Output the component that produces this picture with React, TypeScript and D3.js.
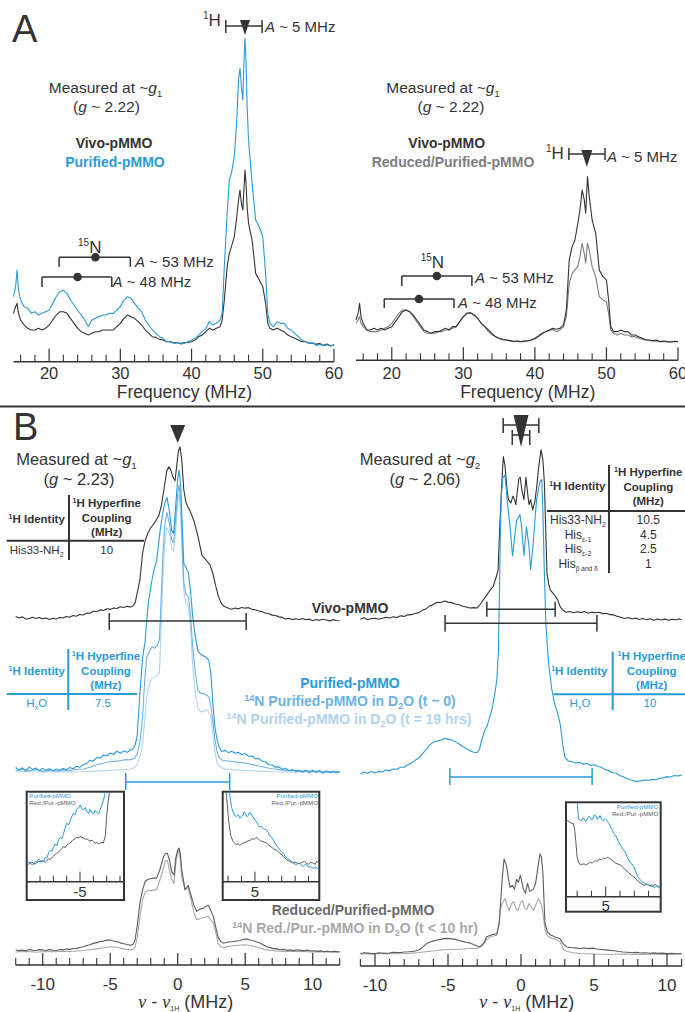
import React from "react";
import * as d3 from "d3";

type Pt = [number, number];
type Scale = d3.ScaleLinear<number, number>;

// colours
const INK = "#333333";
const BLUE = "#2a9bd7";
const BLUE_MID = "#6db3e2";
const BLUE_LIGHT = "#b1d3ee";
const GRAY = "#5c5c5c";
const GRAY_LIGHT = "#a8a8a8";
const GRAY_A = "#7d7d7d";
const FONT = "'Liberation Sans', Arial, Helvetica, sans-serif";
const SERIF = "'Liberation Serif', 'DejaVu Serif', serif";

// ---------- panel A : ENDOR vs frequency (MHz) ----------
const aMajor = [20, 30, 40, 50, 60];
const aMinor = [16, 18, 22, 24, 26, 28, 32, 34, 36, 38, 42, 44, 46, 48, 52, 54, 56, 58];

const aLeftPurified: Pt[] = [[15,15],[15.3,18],[15.5,23],[15.7,17],[16,14],[16.5,12],[17,11.5],[17.5,10],[18,10.5],[18.5,9.5],[19,10],[19.5,10.5],[20,11],[20.5,13],[21,15],[21.5,16.5],[22,17],[22.5,16],[23,14],[23.5,12.5],[24,11],[24.5,9.5],[25,8],[25.5,6],[26,8],[26.5,8.5],[27,9],[27.5,9.5],[28,9.5],[28.5,10],[29,10],[29.5,11],[30,12],[30.5,14],[31,15],[31.5,14.5],[32,13],[32.5,11.5],[33,10.5],[33.5,8],[34,6.5],[34.5,5],[35,4],[35.5,3],[36,2.5],[36.5,1.5],[37,1.5],[37.5,1],[38,1.2],[38.5,0.8],[39,1],[39.5,1.5],[40,2],[40.5,2.5],[41,3.5],[41.5,4.5],[42,5.5],[42.5,7.5],[43,6.5],[43.5,7],[44,8],[44.3,10],[44.6,24],[45,40],[45.3,50],[45.6,52],[46,57],[46.3,66],[46.6,80],[46.8,83.5],[47.0,78],[47.2,74],[47.35,85],[47.5,92.5],[47.65,86],[47.8,72],[48,62],[48.5,49],[49,38],[49.5,36],[50,33],[50.4,22],[50.7,10],[51,7],[51.5,6],[52,7.5],[52.5,7],[53,7],[53.5,5.5],[54,5],[54.5,4],[55,3],[55.5,2],[56,1.5],[56.5,1],[57,1.2],[57.5,0.4],[58,0.7],[58.5,0.3],[59,0.6],[59.5,0.2],[60,0.4]];
const aLeftVivo: Pt[] = [[15,10],[15.3,12],[15.5,13],[15.7,10],[16,8],[16.5,6.5],[17,5.5],[17.5,5],[18,5],[18.5,5.5],[19,5],[19.5,5.5],[20,6.5],[20.5,8],[21,9.5],[21.5,10.5],[22,10.5],[22.5,10],[23,8.5],[23.5,7],[24,5.5],[24.5,4.5],[25,4],[25.5,3.5],[26,4],[26.5,4.5],[27,4.5],[27.5,5],[28,5],[28.5,5],[29,5],[29.5,6],[30,7],[30.5,8.5],[31,9.5],[31.5,9],[32,8.5],[32.5,7.5],[33,6.5],[33.5,5],[34,4],[34.5,3],[35,2.8],[35.5,2.2],[36,2],[36.5,1.5],[37,1.5],[37.5,1.2],[38,1.2],[38.5,1],[39,1.2],[39.5,1.3],[40,1.5],[40.5,2],[41,3],[41.5,3.5],[42,4.5],[42.5,5.5],[43,5],[43.5,5.5],[44,6],[44.3,8],[44.6,14],[45,24],[45.3,28],[45.6,30],[46,33],[46.3,38],[46.6,44],[46.8,47],[47.0,43],[47.2,41],[47.35,47],[47.5,53],[47.65,49],[47.8,42],[48,37],[48.5,32],[49,22],[49.5,20],[50,18],[50.4,13],[50.7,7],[51,5.5],[51.5,5],[52,5.5],[52.5,5],[53,4.5],[53.5,3.5],[54,3],[54.5,2.5],[55,2],[55.5,1.5],[56,1.5],[56.5,1],[57,1.1],[57.5,0.7],[58,1],[58.5,0.4],[59,0.8],[59.5,0.3],[60,0.6]];
const aRightVivo: Pt[] = [[15,7],[15.3,9],[15.5,12],[15.7,8],[16,6],[16.5,4],[17,4],[17.5,4.5],[18,4],[18.5,4.5],[19,4],[19.5,4.5],[20,5],[20.5,6.5],[21,8],[21.5,9.5],[22,10],[22.5,9.5],[23,8.5],[23.5,7],[24,5.5],[24.5,4],[25,3.5],[25.5,3],[26,3.5],[26.5,3.5],[27,4],[27.5,4.5],[28,4],[28.5,5],[29,5],[29.5,6.5],[30,8],[30.5,9],[31,9.2],[31.5,8.5],[32,7.5],[32.5,6],[33,5],[33.5,4],[34,3],[34.5,2],[35,1.5],[35.5,1.2],[36,1],[36.5,0.8],[37,0.6],[37.5,0.7],[38,0.5],[38.5,0.7],[39,0.8],[39.5,1],[40,1.5],[40.5,2.2],[41,3],[41.5,3.5],[42,4],[42.5,4.5],[43,4.2],[43.5,4.5],[44,5.5],[44.4,10],[44.8,25],[45.2,29],[45.6,31],[46,36],[46.3,40],[46.6,46],[46.9,43],[47.1,39],[47.35,50],[47.6,44],[48,37],[48.5,33],[49,22],[49.5,20],[50,19],[50.3,13],[50.6,5],[51,3.5],[51.5,3.5],[52,4],[52.5,3.5],[53,3.5],[53.5,2.5],[54,2.5],[54.5,2],[55,1.5],[55.5,1],[56,1],[56.5,0.8],[57,1],[57.5,0.5],[58,0.7],[58.5,0.5],[59,0.4],[59.5,0.6],[60,0.5]];
const aRightReduced: Pt[] = [[15,6],[15.3,7],[15.5,8],[15.7,6],[16,5],[16.5,4],[17,3.5],[17.5,3.5],[18,3.5],[18.5,4],[19,4.5],[19.5,5],[20,6],[20.5,7.5],[21,9],[21.5,10],[22,10],[22.5,9.5],[23,8],[23.5,6.5],[24,5],[24.5,3.5],[25,3],[25.5,3],[26,3],[26.5,3.5],[27,3.5],[27.5,4],[28,4],[28.5,4.5],[29,5],[29.5,6.5],[30,8],[30.5,9],[31,9],[31.5,8.5],[32,7.5],[32.5,6],[33,5],[33.5,3.5],[34,2.5],[34.5,2],[35,1.5],[35.5,1],[36,1],[36.5,0.8],[37,0.5],[37.5,0.6],[38,0.5],[38.5,0.5],[39,0.7],[39.5,1],[40,1.3],[40.5,2],[41,2.8],[41.5,3.5],[42,3.8],[42.5,4.2],[43,3.5],[43.5,4],[44,5],[44.4,8],[44.8,18],[45.2,21],[45.6,22],[46,23],[46.3,26],[46.6,30],[46.9,27],[47.1,24],[47.35,30],[47.6,28],[48,23],[48.5,20],[49,14],[49.5,13],[50,12.5],[50.3,9],[50.6,4],[51,3],[51.5,2.5],[52,3],[52.5,2.5],[53,2.5],[53.5,2],[54,2],[54.5,1.5],[55,1.2],[55.5,1],[56,0.8],[56.5,0.7],[57,0.6],[57.5,0.5],[58,0.5],[58.5,0.5],[59,0.4],[59.5,0.5],[60,0.5]];

// hyperfine brackets, MHz: [low, high, marker]
const aLeftN15: [number, number, number][] = [[21.4, 31.4, 26.5], [19.0, 28.8, 24.0]];
const aLeftH1: [number, number, number] = [44.8, 49.9, 47.5];
const aRightN15: [number, number, number][] = [[21.4, 31.2, 26.3], [18.95, 28.7, 23.8]];
const aRightH1: [number, number, number] = [44.75, 49.8, 47.26];

// ---------- panel B : ENDOR vs nu - nu_H (MHz) ----------
const bMajor = [-10, -5, 0, 5, 10];
const bLeftMinor = [-12, -11, -9, -8, -7, -6, -4, -3, -2, -1, 1, 2, 3, 4, 6, 7, 8, 9, 11, 12];
const bRightMinor = [-11, -9, -8, -7, -6, -4, -3, -2, -1, 1, 2, 3, 4, 6, 7, 8, 9, 11];

const bLeftVivo: Pt[] = [[-12,2],[-11.75,1.2],[-11.5,1.8],[-11.25,0.6],[-11,0.8],[-10.75,1.6],[-10.5,0.9],[-10.25,1.4],[-10,0.7],[-9.75,1.2],[-9.5,0.3],[-9.25,1],[-9,0.6],[-8.75,1.5],[-8.5,1.1],[-8.25,2],[-8,1.6],[-7.75,2.6],[-7.5,2.2],[-7.25,3.2],[-7,2.9],[-6.75,4],[-6.5,3.8],[-6.25,5],[-6,4.7],[-5.75,5.8],[-5.5,5.5],[-5.25,6.5],[-5,6.1],[-4.75,6.9],[-4.5,6.6],[-4.25,7.6],[-4,7.2],[-3.75,7.9],[-3.5,7.4],[-3.3,8.2],[-3.15,10],[-3.0,15.5],[-2.8,23],[-2.6,38.5],[-2.4,46],[-2.2,50],[-2.0,53],[-1.7,56],[-1.4,60],[-1.2,66],[-1.0,76],[-0.8,86],[-0.65,88],[-0.5,86],[-0.35,82],[-0.2,80],[-0.05,90],[0.05,97],[0.17,99.5],[0.3,92],[0.45,75],[0.6,68],[0.75,65],[0.9,63],[1.2,57],[1.5,48],[1.8,37],[2.1,34.5],[2.4,31.5],[2.6,27],[2.8,20],[3.0,14],[3.2,10],[3.4,8],[3.6,7.3],[3.8,6.6],[4.0,6.2],[4.25,6.9],[4.5,6.4],[4.75,7.2],[5,6.8],[5.25,7.1],[5.5,6.2],[5.75,5.9],[6,5.2],[6.25,4.8],[6.5,4],[6.75,3.6],[7,2.8],[7.25,2.6],[7.5,1.8],[7.75,1.5],[8,0.6],[8.25,1],[8.5,0.2],[8.75,0.7],[9,0.3],[9.25,0.9],[9.5,0.1],[9.75,0.5],[10,-0.4],[10.25,0.3],[10.5,-0.2],[10.75,0.4],[11,0],[11.25,-0.5],[11.5,0.2],[11.75,-0.3],[12,-0.4]];
const bLeftPurified: Pt[] = [[-12,1.5],[-11.75,0.6],[-11.5,1.4],[-11.25,0.3],[-11,1.6],[-10.75,0.8],[-10.5,1.3],[-10.25,0.4],[-10,1.2],[-9.75,0.5],[-9.5,1.1],[-9.25,0.4],[-9,1],[-8.75,0.5],[-8.5,1.2],[-8.25,0.7],[-8,1.5],[-7.75,1.1],[-7.5,1.9],[-7.25,1.6],[-7,2.4],[-6.75,2.8],[-6.5,3.9],[-6.25,3.6],[-6,4.8],[-5.75,4.6],[-5.5,5.7],[-5.25,5.3],[-5,6.3],[-4.75,5.8],[-4.5,6.9],[-4.25,6.2],[-4,7],[-3.75,6.5],[-3.5,7.3],[-3.3,7.8],[-3.15,9],[-3.0,12],[-2.8,26],[-2.6,38],[-2.42,43],[-2.3,50],[-2.17,56],[-1.93,63],[-1.75,67],[-1.56,70],[-1.3,80],[-1.1,86],[-0.95,89],[-0.8,91],[-0.6,86],[-0.45,80],[-0.3,79],[-0.15,88],[0,97],[0.1,100],[0.22,95],[0.35,80],[0.45,69],[0.6,68],[0.79,66],[0.95,60],[1.1,52],[1.3,45],[1.5,40],[1.7,39],[1.9,38.5],[2.1,38],[2.3,37],[2.45,33],[2.6,23],[2.75,15],[2.9,11],[3.05,8.5],[3.25,6.8],[3.5,7.2],[3.75,6.4],[4,6.9],[4.25,6.2],[4.5,6.5],[4.75,5.7],[5,6.1],[5.25,5.2],[5.5,5.3],[5.75,4.4],[6,4.5],[6.25,3.5],[6.5,3.4],[6.75,2.4],[7,2.3],[7.25,1.6],[7.5,1.7],[7.75,0.9],[8,1.2],[8.25,0.4],[8.5,0.8],[8.75,0.1],[9,0.6],[9.25,-0.1],[9.5,0.5],[9.75,-0.3],[10,0.6],[10.25,-0.2],[10.5,0.3],[10.75,-0.4],[11,0.4],[11.25,-0.2],[11.5,0.1],[11.75,-0.3],[12,0.2]];
const bLeftD2O0: Pt[] = [[-12,0.5],[-11.5,0.9],[-11,0.4],[-10.5,0.8],[-10,0.2],[-9.5,0.6],[-9,0.3],[-8.5,0.7],[-8,0.5],[-7.5,0.9],[-7,1],[-6.5,1.6],[-6,2.4],[-5.5,3],[-5,3.4],[-4.5,3.6],[-4,4],[-3.5,4.1],[-3.2,4.5],[-3.0,6],[-2.8,10],[-2.6,18],[-2.45,30],[-2.3,38],[-2.1,40],[-1.9,41.5],[-1.7,41],[-1.5,42],[-1.35,44],[-1.25,55],[-1.1,72],[-0.95,82],[-0.8,86],[-0.6,82],[-0.45,77],[-0.3,76],[-0.15,84],[0,92],[0.1,95],[0.22,90],[0.35,74],[0.45,63],[0.6,59],[0.79,58],[0.95,52],[1.1,42],[1.3,33],[1.5,27],[1.7,26],[1.9,26],[2.1,25.5],[2.3,25],[2.45,22],[2.6,17],[2.75,11],[2.9,7],[3.05,5],[3.25,4],[3.5,3.8],[4,3.5],[4.5,3.2],[5,3],[5.5,2.5],[6,2],[6.5,1.5],[7,1.1],[7.5,0.8],[8,0.5],[8.5,0.6],[9,0.3],[9.5,0.5],[10,0.2],[10.5,0.4],[11,0],[11.5,0.3],[12,0.1]];
const bLeftD2O19: Pt[] = [[-12,0.3],[-11,0.1],[-10,0],[-9,0.1],[-8,0],[-7,0.1],[-6,0.3],[-5,0.5],[-4,0.8],[-3.5,1],[-3.2,1.5],[-3.0,2.5],[-2.8,5],[-2.6,9],[-2.45,17],[-2.3,25],[-2.1,29],[-1.9,31],[-1.7,31.5],[-1.5,32],[-1.35,33],[-1.25,45],[-1.1,64],[-0.95,76],[-0.8,81],[-0.6,79],[-0.45,74],[-0.3,73],[-0.15,80],[0,89],[0.1,92],[0.22,87],[0.35,70],[0.45,60],[0.6,56],[0.79,55],[0.95,48],[1.1,36],[1.3,26],[1.5,21],[1.7,20],[1.9,20],[2.1,20.5],[2.3,20],[2.45,18],[2.6,13],[2.75,7],[2.9,3.5],[3.05,2],[3.25,1.5],[3.5,1],[4,0.8],[5,0.5],[6,0.3],[7,0.1],[8,0],[9,0],[10,0],[11,0],[12,0]];
const bLeftReduced: Pt[] = [[-12,2],[-11.75,1.3],[-11.5,1.9],[-11.25,1.1],[-11,2.5],[-10.75,1.6],[-10.5,1.5],[-10.25,2.3],[-10,2],[-9.75,1.4],[-9.5,2.5],[-9.25,1.7],[-9,1.5],[-8.75,2.4],[-8.5,2],[-8.25,2.8],[-8,2.5],[-7.75,3.3],[-7.5,3.5],[-7.25,4.4],[-7,5],[-6.75,6.2],[-6.5,7],[-6.25,8.3],[-6,9],[-5.75,10.2],[-5.5,10.5],[-5.25,11.4],[-5,11.5],[-4.75,10.6],[-4.5,10],[-4.25,8.8],[-4,8],[-3.75,7.2],[-3.5,6.5],[-3.3,7.5],[-3.15,12],[-3.0,25],[-2.8,47],[-2.6,60],[-2.4,68],[-2.2,70],[-2.0,70.5],[-1.8,71],[-1.56,71],[-1.3,80],[-1.07,91],[-0.9,95],[-0.77,95],[-0.6,88],[-0.44,77],[-0.27,74],[-0.15,90],[0,98],[0.1,100],[0.2,94],[0.3,79],[0.54,60],[0.78,64],[1.04,52],[1.2,45],[1.41,39],[1.6,41],[1.9,42],[2.1,44],[2.27,45],[2.45,40],[2.64,34],[2.8,25],[3.0,14],[3.2,10],[3.38,8.5],[3.6,9.2],[3.85,9.8],[4.1,10],[4.35,10.6],[4.6,11.1],[4.85,12],[5.1,12.6],[5.35,11.6],[5.6,10.8],[5.85,9.6],[6.1,8.6],[6.35,6.8],[6.6,5],[6.85,4.2],[7.1,3.2],[7.35,3],[7.6,2.2],[7.85,2.5],[8.1,1.6],[8.35,2],[8.6,1.3],[8.85,2.1],[9.1,1.6],[9.35,1.1],[9.6,1.8],[9.85,0.9],[10.1,1.2],[10.35,0.6],[10.6,1.1],[10.85,0.3],[11.1,0.8],[11.35,0.2],[11.6,0.6],[12,0]];
const bLeftReducedD2O: Pt[] = [[-12,0],[-11.5,0.6],[-11,0.4],[-10.5,-0.2],[-10,0.3],[-9.5,0.6],[-9,0.2],[-8.5,0.8],[-8,0.5],[-7.5,1],[-7,1.5],[-6.5,2.2],[-6,3],[-5.5,4.1],[-5,5],[-4.5,4.5],[-4,3],[-3.5,2],[-3.3,2.5],[-3.15,5],[-3.0,14],[-2.8,34],[-2.6,50],[-2.4,58],[-2.2,59],[-2.0,59],[-1.8,59.5],[-1.56,60],[-1.3,70],[-1.07,80],[-0.9,88],[-0.77,88],[-0.6,78],[-0.44,70],[-0.27,66],[-0.15,85],[0,95],[0.1,98],[0.2,88],[0.3,72],[0.54,60],[0.78,62],[1.04,47],[1.2,38],[1.41,31],[1.6,32],[1.9,33],[2.1,34],[2.27,34],[2.45,31],[2.64,28],[2.8,20],[3.0,8],[3.2,5],[3.38,4],[3.7,5],[4.1,6],[4.5,6.5],[5,7],[5.5,6],[6,4],[6.6,2],[7,1.5],[7.5,0.8],[8,0.5],[8.5,0.8],[9,0.5],[9.5,0.2],[10,0],[10.5,0.3],[11,0],[11.5,0.2],[12,0]];

const bRightVivo: Pt[] = [[-11,0.5],[-10.75,1.3],[-10.5,0.2],[-10.25,0.9],[-10,1],[-9.75,0.4],[-9.5,1],[-9.25,1.6],[-9,1.2],[-8.75,1.9],[-8.5,1.4],[-8.25,2.4],[-8,2.1],[-7.75,3],[-7.5,3.1],[-7.25,3.8],[-7,4.3],[-6.75,5.6],[-6.5,6.5],[-6.25,8.2],[-6,9],[-5.75,10.3],[-5.5,10.2],[-5.25,11],[-5,10.4],[-4.75,10.1],[-4.5,9.3],[-4.25,8.9],[-4,8],[-3.75,7.6],[-3.5,7],[-3.25,7.2],[-3.0,7],[-2.8,9],[-2.6,11.5],[-2.35,14.5],[-2.1,17.5],[-1.9,19.5],[-1.7,25],[-1.57,29],[-1.45,55],[-1.37,70],[-1.28,85],[-1.21,95],[-1.1,90],[-0.95,75],[-0.85,70],[-0.7,68],[-0.55,72],[-0.45,70],[-0.35,67],[-0.25,75],[-0.15,82],[-0.05,83],[0.05,76],[0.2,70],[0.34,83],[0.45,74],[0.55,67],[0.66,70],[0.8,64],[0.95,69],[1.07,77],[1.2,88],[1.37,99],[1.5,93],[1.6,80],[1.7,50],[1.78,27],[1.9,21],[2.0,17.5],[2.3,14.5],[2.5,12],[2.7,7.5],[2.9,5.5],[3.1,4.5],[3.35,4.9],[3.6,4.2],[3.85,4.8],[4.1,4.3],[4.35,4.9],[4.6,3.9],[4.85,4.6],[5.1,4.2],[5.35,4.5],[5.6,3.7],[5.85,3.9],[6.1,3.1],[6.35,3],[6.6,2.1],[6.85,1.6],[7.1,0.9],[7.35,1.5],[7.6,0.6],[7.85,1.2],[8.1,0.3],[8.35,0.9],[8.6,0.2],[8.85,0.7],[9.1,-0.1],[9.35,0.6],[9.6,0],[9.85,0.5],[10.1,-0.2],[10.35,0.4],[10.6,0.1],[10.85,0.6],[11,0.1]];
const bRightPurified: Pt[] = [[-11,2],[-10.75,2.6],[-10.5,2.2],[-10.25,2.8],[-10,2.3],[-9.75,2.9],[-9.5,2.6],[-9.25,3.3],[-9,3],[-8.75,3.6],[-8.5,3.5],[-8.25,4.2],[-8,4.2],[-7.75,5],[-7.5,5.6],[-7.25,6.5],[-7,7.2],[-6.75,8.6],[-6.5,10],[-6.25,11.5],[-6,12.4],[-5.75,12.8],[-5.5,13],[-5.25,13.6],[-5,13.4],[-4.75,13.1],[-4.5,12.5],[-4.25,11.8],[-4,11],[-3.75,10.3],[-3.5,9.6],[-3.25,9.1],[-3.0,9],[-2.85,10],[-2.7,13],[-2.5,16],[-2.3,18],[-2.0,23],[-1.8,28],[-1.65,33],[-1.55,42],[-1.48,60],[-1.42,80],[-1.35,93],[-1.25,99],[-1.1,100],[-0.95,92],[-0.75,83],[-0.58,73.5],[-0.45,79],[-0.3,85],[-0.07,87],[0.04,83],[0.2,73.5],[0.37,83],[0.55,76.5],[0.66,69],[0.82,76.5],[0.95,85],[1.07,92],[1.3,98],[1.42,98.5],[1.5,88],[1.6,68],[1.7,52],[1.8,44],[1.9,38],[2.1,30],[2.3,25],[2.5,22],[2.7,18],[2.85,12],[3.0,7.5],[3.25,6.2],[3.5,6],[3.75,5.6],[4,5.8],[4.25,5.2],[4.5,5.4],[4.75,4.8],[5,5],[5.25,4.4],[5.5,4.2],[5.75,3.4],[6,3.1],[6.25,2.4],[6.5,2.3],[6.75,1.5],[7,1.1],[7.25,0.5],[7.5,0.1],[7.75,-0.3],[8,-0.5],[8.25,-0.2],[8.5,0],[8.75,-0.1],[9,0.2],[9.25,0.1],[9.5,0.6],[9.75,0.7],[10,1.1],[10.25,1],[10.5,1.5],[10.75,1.3],[11,1.6]];
const bRightReduced: Pt[] = [[-11,0.5],[-10.75,1.2],[-10.5,1],[-10.25,0.4],[-10,0.5],[-9.75,1.3],[-9.5,1],[-9.25,0.6],[-9,1],[-8.75,1.7],[-8.5,1.5],[-8.25,1.4],[-8,2],[-7.75,2.2],[-7.5,2.5],[-7.25,3],[-7,4],[-6.75,6.5],[-6.5,10],[-6.25,11.8],[-6,13],[-5.75,13.8],[-5.5,14.5],[-5.25,15.2],[-5,15.5],[-4.75,15],[-4.5,14.5],[-4.25,13.3],[-4,12.5],[-3.75,11.6],[-3.5,11],[-3.25,9.4],[-3,8],[-2.8,7],[-2.5,12],[-2.35,17],[-2,19],[-1.66,20],[-1.5,30],[-1.4,50],[-1.28,76],[-1.16,94],[-1.05,90],[-0.98,86],[-0.85,74],[-0.75,66],[-0.6,68],[-0.45,64],[-0.3,74],[-0.18,71],[-0.05,78],[0.05,72],[0.15,65],[0.3,60],[0.45,70],[0.6,62],[0.84,64],[1.0,70],[1.15,85],[1.3,99],[1.4,96],[1.5,80],[1.64,31],[1.8,22],[2.0,19],[2.3,17],[2.67,15],[2.9,10],[3.13,7],[3.4,6.4],[3.7,6.1],[4,5.5],[4.3,6],[4.6,5.3],[4.9,5.8],[5.2,4.9],[5.5,4.5],[5.8,4.1],[6.1,3.6],[6.4,3.2],[6.7,2.4],[7,2],[7.3,1.8],[7.6,1.3],[7.9,1.6],[8.2,1],[8.5,1.3],[8.8,0.8],[9.1,1.1],[9.4,0.6],[9.7,0.9],[10,0.4],[10.3,0.7],[10.6,0.3],[11,0.5]];
const bRightReducedD2O: Pt[] = [[-11,0],[-10.5,0.3],[-10,0],[-9.5,0.4],[-9,0.5],[-8.5,0.3],[-8,0.5],[-7.5,0.9],[-7,1.5],[-6.5,2.3],[-6,3],[-5.5,4],[-5,4.5],[-4.5,4.5],[-4,5],[-3.5,5.5],[-3,5.5],[-2.6,9],[-2.35,14.5],[-2,17.5],[-1.66,18.5],[-1.5,30],[-1.4,45],[-1.28,50],[-1.1,55],[-0.95,48],[-0.8,43],[-0.65,50],[-0.5,52],[-0.35,45],[-0.2,43],[-0.05,50],[0.1,53],[0.25,45],[0.4,44],[0.55,50],[0.7,47],[0.85,43],[1.0,48],[1.2,55],[1.35,51],[1.5,42],[1.64,24],[1.8,18],[2.0,16],[2.3,15],[2.67,12],[2.9,5],[3.13,2.5],[3.5,1.5],[4,0.5],[5,0],[6,-0.5],[7,0],[8,-0.5],[9,0],[10,-0.5],[11,0]];

// insets (zoomed wings): purified vs reduced/purified
const inset1Purified: Pt[] = [[-9,2],[-8.85,4],[-8.75,3],[-8.6,0.5],[-8.5,1],[-8.35,5],[-8.25,4],[-8.1,8],[-8,6.5],[-7.85,4],[-7.75,5],[-7.6,11],[-7.5,9],[-7.35,17],[-7.25,20],[-7.1,19],[-7,24],[-6.85,29],[-6.75,26],[-6.6,35],[-6.5,38],[-6.35,36],[-6.25,42],[-6.1,52],[-6,57],[-5.85,55],[-5.75,60],[-5.6,67],[-5.5,71],[-5.35,69],[-5.25,76],[-5.1,78],[-5,82],[-4.85,77],[-4.75,75],[-4.6,79],[-4.5,73],[-4.35,71],[-4.25,76],[-4.1,72],[-4,70],[-3.85,75],[-3.75,72],[-3.6,70],[-3.5,75],[-3.4,80],[-3.3,85],[-3.15,95],[-3.05,105],[-2.9,130]];
const inset1Reduced: Pt[] = [[-9,2],[-8.85,1],[-8.75,3],[-8.6,4],[-8.5,2],[-8.35,1.5],[-8.25,3],[-8.1,5],[-8,4],[-7.85,6],[-7.75,5],[-7.6,4],[-7.5,5.5],[-7.35,9],[-7.25,7],[-7.1,10],[-7,12],[-6.85,15],[-6.75,16],[-6.6,18],[-6.5,20],[-6.35,23],[-6.25,25],[-6.1,24],[-6,27],[-5.85,29],[-5.75,30],[-5.6,33],[-5.5,35],[-5.35,36],[-5.25,38],[-5.1,37],[-5,39],[-4.85,38],[-4.75,37],[-4.6,35],[-4.5,36],[-4.35,34],[-4.25,33],[-4.1,34],[-4,32],[-3.85,30],[-3.75,31],[-3.6,29],[-3.5,30],[-3.35,31],[-3.25,30],[-3.1,40],[-3.0,67],[-2.9,85],[-2.75,105],[-2.6,130]];
const inset2Purified: Pt[] = [[2.6,130],[3.1,100],[3.25,80],[3.4,71],[3.6,66],[3.75,69],[3.88,64],[4.0,67],[4.1,68],[4.2,73],[4.3,70],[4.4,66],[4.5,68],[4.6,72],[4.7,71],[4.8,67],[4.9,65],[5.0,62],[5.12,59],[5.25,55],[5.35,52],[5.5,53],[5.6,50],[5.75,49],[5.87,48],[6.0,44],[6.1,40],[6.25,38],[6.37,34],[6.5,30],[6.6,27],[6.75,24],[6.9,20],[7.0,18],[7.12,16],[7.25,12],[7.4,10],[7.5,8],[7.6,7],[7.75,4],[7.87,3],[8.0,1],[8.1,0],[8.25,3],[8.4,1],[8.5,-1],[8.6,-2],[8.75,1],[8.87,0],[9.0,-3],[9.1,-2],[9.25,-4],[9.4,-4],[9.55,-3],[9.75,-6]];
const inset2Reduced: Pt[] = [[2.6,130],[2.8,110],[2.88,95],[3.0,70],[3.05,60],[3.2,40],[3.38,32],[3.5,30],[3.6,28],[3.75,29],[3.88,27],[4.0,29],[4.1,30],[4.3,31],[4.5,33],[4.65,34],[4.8,36],[4.95,35],[5.1,38],[5.25,36],[5.4,33],[5.6,32],[5.75,31],[5.87,30],[6.0,28],[6.2,25],[6.4,22],[6.62,20],[6.8,17],[7.0,14],[7.2,10],[7.37,7],[7.6,5],[7.8,3],[8.0,4],[8.2,2],[8.37,2],[8.55,4],[8.7,5],[8.85,2],[9.0,1],[9.15,4],[9.3,3],[9.5,1],[9.6,5],[9.75,4]];
const inset3Purified: Pt[] = [[2.2,130],[2.9,105],[3.0,100],[3.1,80],[3.2,79],[3.3,78],[3.4,81],[3.5,80],[3.6,77],[3.7,80],[3.8,83],[3.9,82],[4.0,79],[4.1,80],[4.2,85],[4.3,84],[4.4,80],[4.5,81],[4.6,84],[4.7,80],[4.8,78],[4.9,79],[5.0,80],[5.1,78],[5.2,75],[5.3,72],[5.45,67],[5.57,63],[5.7,60],[5.8,57],[5.9,53],[6.0,50],[6.15,46],[6.27,43],[6.4,40],[6.5,36],[6.6,32],[6.75,28],[6.85,27],[6.97,24],[7.1,18],[7.2,14],[7.3,11],[7.44,8],[7.55,6],[7.7,5],[7.8,3],[7.9,4],[8.0,2],[8.1,1],[8.2,3],[8.3,2],[8.4,-1],[8.5,0],[8.6,2],[8.7,-1],[8.85,-1]];
const inset3Reduced: Pt[] = [[2.22,77],[2.35,78],[2.5,76],[2.6,75],[2.73,75],[2.82,68],[2.9,55],[3.0,35],[3.1,29],[3.23,26],[3.35,27],[3.5,27],[3.65,26],[3.8,28],[3.95,29],[4.05,28],[4.16,30],[4.3,31],[4.4,30],[4.55,33],[4.7,32],[4.85,34],[5.0,33],[5.1,35],[5.25,34],[5.4,32],[5.55,30],[5.7,28],[5.85,27],[6.03,26],[6.2,23],[6.4,20],[6.6,17],[6.8,14],[6.97,12],[7.15,9],[7.3,6],[7.5,4],[7.67,2],[7.85,3],[8.0,2.5],[8.15,1],[8.3,1],[8.45,3],[8.55,2],[8.7,0],[8.85,1]];
const inset1Ticks = [-8, -7, -6, -5, -4, -3, -2];
const inset2Ticks = [3, 4, 5, 6, 7, 8, 9];
const inset3Ticks = [3, 4, 5, 6, 7, 8];

// brackets in panel B, MHz
const bLeftVivoSpan: [number, number] = [-5.07, 5.07];
const bLeftPurSpan: [number, number] = [-3.85, 3.85];
const bRightVivoSpans: [number, number][] = [[-2.34, 2.34], [-5.2, 5.2]];
const bRightPurSpan: [number, number] = [-4.87, 4.87];
const bRightTopSpans: [number, number][] = [[-1.22, 1.22], [-0.6, 0.6]];

// tables
const tableG2Rows = [
  { base: "His33-NH", sub: "2", value: "10.5" },
  { base: "His", sub: "ε-1", value: "4.5" },
  { base: "His", sub: "ε-2", value: "2.5" },
  { base: "His", sub: "β and δ", value: "1" },
];

// scales
const xAL = d3.scaleLinear().domain([15, 60]).range([13.5, 334]);
const xAR = d3.scaleLinear().domain([15, 60]).range([356, 678]);
const yAL = d3.scaleLinear().domain([0, 93]).range([346.7, 36.7]);
const yAR = d3.scaleLinear().domain([0, 93]).range([343.3, 33.3]);
const xBL = d3.scaleLinear().domain([-12, 12]).range([15.7, 339.7]);
const xBR = d3.scaleLinear().domain([-11, 11]).range([360.4, 681.6]);
const yBLV = d3.scaleLinear().domain([0, 100]).range([620, 446]);
const yBLP = d3.scaleLinear().domain([0, 100]).range([772, 470]);
const yBLR = d3.scaleLinear().domain([0, 100]).range([952, 848]);
const yBRV = d3.scaleLinear().domain([0, 100]).range([620, 448]);
const yBRP = d3.scaleLinear().domain([0, 100]).range([780, 475]);
const yBRR = d3.scaleLinear().domain([0, 100]).range([954, 853]);
const xI1 = d3.scaleLinear().domain([-9, -1.7]).range([26.7, 124]);
const xI2 = d3.scaleLinear().domain([2.6, 9.8]).range([222.7, 319.3]);
const xI3 = d3.scaleLinear().domain([2.22, 8.85]).range([566, 660.7]);
const yI12 = d3.scaleLinear().domain([0, 100]).range([865, 792]);
const yI3 = d3.scaleLinear().domain([0, 100]).range([887, 802]);

function Spec({ data, x, y, color, w = 1.1, clip }: { data: Pt[]; x: Scale; y: Scale; color: string; w?: number; clip?: string }) {
  const gen = d3.line<Pt>().x((d) => x(d[0])).y((d) => y(d[1]));
  return (
    <path d={gen(data) ?? ""} fill="none" stroke={color} strokeWidth={w} strokeLinejoin="round"
      clipPath={clip ? `url(#${clip})` : undefined} />
  );
}

function Bracket({ x, lo, hi, y, up, down, color = INK }: { x: Scale; lo: number; hi: number; y: number; up: number; down: number; color?: string }) {
  return (
    <g stroke={color} strokeWidth={1.5} fill="none">
      <line x1={x(lo)} x2={x(hi)} y1={y} y2={y} />
      <line x1={x(lo)} x2={x(lo)} y1={y - up} y2={y + down} />
      <line x1={x(hi)} x2={x(hi)} y1={y - up} y2={y + down} />
    </g>
  );
}

function Tri({ cx, top, bottom, hw }: { cx: number; top: number; bottom: number; hw: number }) {
  return <path d={`M${cx - hw},${top}L${cx + hw},${top}L${cx},${bottom}Z`} fill={INK} />;
}

function Axis({ x, y, major, minor, labels, majorLen, minorLen, fontSize, labelY }:
  { x: Scale; y: number; major: number[]; minor: number[]; labels: number[]; majorLen: number; minorLen: number; fontSize: number; labelY: number }) {
  const [a, b] = x.range();
  return (
    <g>
      <line x1={a} x2={b} y1={y} y2={y} stroke={INK} strokeWidth={1.4} />
      {minor.map((t) => <line key={"n" + t} x1={x(t)} x2={x(t)} y1={y} y2={y - minorLen} stroke={INK} strokeWidth={1.1} />)}
      {major.map((t) => <line key={"j" + t} x1={x(t)} x2={x(t)} y1={y} y2={y - majorLen} stroke={INK} strokeWidth={1.2} />)}
      {labels.map((t) => <text key={"l" + t} x={x(t)} y={labelY} textAnchor="middle" fontSize={fontSize} fill={INK}>{String(t)}</text>)}
    </g>
  );
}

function Measured({ cx, cx2, y, y2, sub, g, size }: { cx: number; cx2: number; y: number; y2: number; sub: string; g: string; size: number }) {
  return (
    <g fill={INK} fontSize={size}>
      <text x={cx} y={y} textAnchor="middle">
        {"Measured at ~"}<tspan fontStyle="italic">g</tspan><tspan fontSize={size * 0.6} dy={4}>{sub}</tspan>
      </text>
      <text x={cx2} y={y2} textAnchor="middle">
        {"("}<tspan fontStyle="italic">g</tspan>{` ~ ${g})`}
      </text>
    </g>
  );
}

function HyperText({ x, y, value }: { x: number; y: number; value: string }) {
  return (
    <text x={x} y={y} fontSize={15} fill={INK}>
      <tspan fontStyle="italic">A</tspan>{` ~ ${value} MHz`}
    </text>
  );
}

function IsoLabel({ x, y, mass, el }: { x: number; y: number; mass: string; el: string }) {
  return (
    <text x={x} y={y} fill={INK}>
      <tspan fontSize={10} dy={-7}>{mass}</tspan><tspan fontSize={17} dy={7}>{el}</tspan>
    </text>
  );
}

function HeadH({ x, y, text, color }: { x: number; y: number; text: string; color: string }) {
  return (
    <text x={x} y={y} textAnchor="middle" fontWeight="bold" fontSize={11.5} fill={color}>
      <tspan fontSize={7} dy={-4}>1</tspan><tspan dy={4}>{text}</tspan>
    </text>
  );
}

function CouplingHead({ cx, y, color }: { cx: number; y: number; color: string }) {
  return (
    <g>
      <HeadH x={cx} y={y} text="H Hyperfine" color={color} />
      <text x={cx} y={y + 14.5} textAnchor="middle" fontWeight="bold" fontSize={11.5} fill={color}>Coupling</text>
      <text x={cx} y={y + 29} textAnchor="middle" fontWeight="bold" fontSize={11.5} fill={color}>(MHz)</text>
    </g>
  );
}

function Inset({ id, x0, x1, y0, y1, axisY, x, y, ticks, major, label, labelY, pur, red, legendX, anchor }:
  { id: string; x0: number; x1: number; y0: number; y1: number; axisY: number; x: Scale; y: Scale; ticks: number[]; major: number; label: string; labelY: number; pur: Pt[]; red: Pt[]; legendX: number; anchor: "start" | "end" }) {
  return (
    <g>
      <defs>
        <clipPath id={id}><rect x={x0} y={y0} width={x1 - x0} height={axisY - y0} /></clipPath>
      </defs>
      <rect x={x0} y={y0} width={x1 - x0} height={y1 - y0} fill="#fff" stroke={INK} strokeWidth={2} />
      <Spec data={red} x={x} y={y} color={GRAY} w={1} clip={id} />
      <Spec data={pur} x={x} y={y} color={BLUE} w={1} clip={id} />
      <line x1={x0} x2={x1} y1={axisY} y2={axisY} stroke={INK} strokeWidth={1.4} />
      {ticks.map((t) => (
        <line key={t} x1={x(t)} x2={x(t)} y1={axisY} y2={axisY - (t === major ? 10 : 6)} stroke={INK} strokeWidth={1} />
      ))}
      <text x={x(major)} y={labelY} textAnchor="middle" fontSize={15} fill={INK}>{label}</text>
      <text x={legendX} y={y0 + 6.2} textAnchor={anchor} fontSize={6.2} fill={BLUE}>Purified-pMMO</text>
      <text x={legendX} y={y0 + 13.5} textAnchor={anchor} fontSize={6.2} fill={GRAY}>Red./Pur.-pMMO</text>
    </g>
  );
}

function NuLabel({ x, y }: { x: number; y: number }) {
  return (
    <text x={x} y={y} textAnchor="middle" fontSize={18} fill={INK}>
      <tspan fontFamily={SERIF} fontStyle="italic">ν</tspan>{" - "}
      <tspan fontFamily={SERIF} fontStyle="italic">ν</tspan>
      <tspan fontSize={7} dy={3}>1H</tspan><tspan dy={-3}>{" (MHz)"}</tspan>
    </text>
  );
}

export default function App() {
  return (
    <div style={{ position: "absolute", left: 0, top: 0, background: "#fff" }}>
      <svg width={685} height={1012} style={{ display: "block", fontFamily: FONT }}>
        <rect width={685} height={1012} fill="#fff" />

        {/* ================= panel A ================= */}
        <text x={12} y={42} fontSize={38} fill={INK}>A</text>

        {/* left: vivo vs purified */}
        <Spec data={aLeftVivo} x={xAL} y={yAL} color={INK} />
        <Spec data={aLeftPurified} x={xAL} y={yAL} color={BLUE} />
        <Axis x={xAL} y={361.7} major={aMajor} minor={aMinor} labels={aMajor} majorLen={13} minorLen={7} fontSize={16.5} labelY={378.5} />
        <text x={xAL(39)} y={398} textAnchor="middle" fontSize={17.5} fill={INK}>Frequency (MHz)</text>
        <Measured cx={105.5} cx2={106.5} y={93} y2={111.7} sub="1" g="2.22" size={15.5} />
        <text x={114} y={148} textAnchor="middle" fontWeight="bold" fontSize={14} fill={INK}>Vivo-pMMO</text>
        <text x={115} y={167} textAnchor="middle" fontWeight="bold" fontSize={14} fill={BLUE}>Purified-pMMO</text>
        <IsoLabel x={78} y={253} mass="15" el="N" />
        <Bracket x={xAL} lo={aLeftN15[0][0]} hi={aLeftN15[0][1]} y={257.3} up={0} down={9.4} />
        <circle cx={xAL(aLeftN15[0][2])} cy={257.3} r={4.3} fill={INK} />
        <HyperText x={135} y={267} value="53" />
        <Bracket x={xAL} lo={aLeftN15[1][0]} hi={aLeftN15[1][1]} y={277} up={0} down={10} />
        <circle cx={xAL(aLeftN15[1][2])} cy={277} r={4.3} fill={INK} />
        <HyperText x={112.5} y={287} value="48" />
        <IsoLabel x={203} y={26} mass="1" el="H" />
        <Bracket x={xAL} lo={aLeftH1[0]} hi={aLeftH1[1]} y={26} up={6} down={7} />
        <Tri cx={xAL(aLeftH1[2])} top={20} bottom={35} hw={5} />
        <HyperText x={265} y={32} value="5" />

        {/* right: vivo vs reduced/purified */}
        <Spec data={aRightReduced} x={xAR} y={yAR} color={GRAY_A} />
        <Spec data={aRightVivo} x={xAR} y={yAR} color={INK} />
        <Axis x={xAR} y={360.3} major={aMajor} minor={aMinor} labels={aMajor} majorLen={13} minorLen={7} fontSize={16.5} labelY={378.5} />
        <text x={xAR(39)} y={398} textAnchor="middle" fontSize={17.5} fill={INK}>Frequency (MHz)</text>
        <Measured cx={443} cx2={451} y={93} y2={111.7} sub="1" g="2.22" size={15.5} />
        <text x={446.7} y={148} textAnchor="middle" fontWeight="bold" fontSize={14} fill={INK}>Vivo-pMMO</text>
        <text x={453} y={167} textAnchor="middle" fontWeight="bold" fontSize={14} fill={GRAY_A}>Reduced/Purified-pMMO</text>
        <IsoLabel x={420.7} y={268} mass="15" el="N" />
        <Bracket x={xAR} lo={aRightN15[0][0]} hi={aRightN15[0][1]} y={276} up={0} down={10} />
        <circle cx={xAR(aRightN15[0][2])} cy={276} r={4.3} fill={INK} />
        <HyperText x={475} y={283} value="53" />
        <Bracket x={xAR} lo={aRightN15[1][0]} hi={aRightN15[1][1]} y={299} up={0} down={9} />
        <circle cx={xAR(aRightN15[1][2])} cy={299} r={4.3} fill={INK} />
        <HyperText x={458} y={308} value="48" />
        <IsoLabel x={546} y={159.3} mass="1" el="H" />
        <Bracket x={xAR} lo={aRightH1[0]} hi={aRightH1[1]} y={154} up={6} down={6} />
        <Tri cx={xAR(aRightH1[2])} top={150} bottom={167} hw={5.5} />
        <HyperText x={607} y={162} value="5" />

        {/* divider */}
        <line x1={0} x2={685} y1={406.5} y2={406.5} stroke={INK} strokeWidth={2.2} />

        {/* ================= panel B ================= */}
        <text x={13} y={440} fontSize={38} fill={INK}>B</text>

        {/* left, g1 */}
        <Spec data={bLeftVivo} x={xBL} y={yBLV} color={INK} />
        <Spec data={bLeftD2O19} x={xBL} y={yBLP} color={BLUE_LIGHT} />
        <Spec data={bLeftD2O0} x={xBL} y={yBLP} color={BLUE_MID} />
        <Spec data={bLeftPurified} x={xBL} y={yBLP} color={BLUE} />
        <Spec data={bLeftReducedD2O} x={xBL} y={yBLR} color={GRAY_LIGHT} />
        <Spec data={bLeftReduced} x={xBL} y={yBLR} color={GRAY} />
        <Tri cx={xBL(0)} top={425} bottom={443} hw={7.5} />
        <Measured cx={76.5} cx2={79} y={465} y2={485} sub="1" g="2.23" size={16.5} />
        <Bracket x={xBL} lo={bLeftVivoSpan[0]} hi={bLeftVivoSpan[1]} y={621} up={8} down={9} />
        <Bracket x={xBL} lo={bLeftPurSpan[0]} hi={bLeftPurSpan[1]} y={782} up={9} down={8} color={BLUE} />
        <Axis x={xBL} y={965} major={bMajor} minor={bLeftMinor} labels={bMajor} majorLen={12} minorLen={7} fontSize={17} labelY={990} />
        <NuLabel x={xBL(0.6)} y={1008} />

        {/* table g1, vivo */}
        <HeadH x={36.7} y={522.7} text="H Identity" color={INK} />
        <CouplingHead cx={106.7} y={507} color={INK} />
        <line x1={69} x2={69} y1={495} y2={560} stroke={INK} strokeWidth={2} />
        <line x1={6.7} x2={144} y1={540.7} y2={540.7} stroke={INK} strokeWidth={2} />
        <text x={36.7} y={554} textAnchor="middle" fontSize={11.5} fill={INK}>
          {"His33-NH"}<tspan fontSize={7} dy={3}>2</tspan>
        </text>
        <text x={106.7} y={554} textAnchor="middle" fontSize={11.5} fill={INK}>10</text>

        {/* table g1, purified */}
        <HeadH x={36.7} y={675} text="H Identity" color={BLUE} />
        <CouplingHead cx={106} y={660} color={BLUE} />
        <line x1={68.3} x2={68.3} y1={649} y2={710} stroke={BLUE} strokeWidth={2} />
        <line x1={6.7} x2={137} y1={694} y2={694} stroke={BLUE} strokeWidth={2} />
        <text x={36.7} y={706.5} textAnchor="middle" fontSize={11.5} fill={BLUE}>
          {"H"}<tspan fontSize={7} dy={3}>x</tspan><tspan dy={-3}>O</tspan>
        </text>
        <text x={103} y={706.5} textAnchor="middle" fontSize={11.5} fill={BLUE}>7.5</text>

        {/* insets */}
        <Inset id="clipI1" x0={26.7} x1={124} y0={791.7} y1={900} axisY={881.7} x={xI1} y={yI12} ticks={inset1Ticks} major={-5}
          label="-5" labelY={896.7} pur={inset1Purified} red={inset1Reduced} legendX={29.3} anchor="start" />
        <Inset id="clipI2" x0={222.7} x1={319.3} y0={791.7} y1={900} axisY={881.7} x={xI2} y={yI12} ticks={inset2Ticks} major={5}
          label="5" labelY={896.7} pur={inset2Purified} red={inset2Reduced} legendX={318} anchor="end" />

        {/* right, g2 */}
        <Spec data={bRightVivo} x={xBR} y={yBRV} color={INK} />
        <Spec data={bRightPurified} x={xBR} y={yBRP} color={BLUE} />
        <Spec data={bRightReducedD2O} x={xBR} y={yBRR} color={GRAY_LIGHT} />
        <Spec data={bRightReduced} x={xBR} y={yBRR} color={GRAY} />
        <Tri cx={xBR(0)} top={415} bottom={447} hw={7.5} />
        <Bracket x={xBR} lo={bRightTopSpans[0][0]} hi={bRightTopSpans[0][1]} y={425} up={7} down={8} />
        <Bracket x={xBR} lo={bRightTopSpans[1][0]} hi={bRightTopSpans[1][1]} y={435} up={5} down={10} />
        <Measured cx={420} cx2={425} y={465} y2={485} sub="2" g="2.06" size={16.5} />
        <Bracket x={xBR} lo={bRightVivoSpans[0][0]} hi={bRightVivoSpans[0][1]} y={609.3} up={7.6} down={7.4} />
        <Bracket x={xBR} lo={bRightVivoSpans[1][0]} hi={bRightVivoSpans[1][1]} y={623.3} up={8.3} down={8.4} />
        <Bracket x={xBR} lo={bRightPurSpan[0]} hi={bRightPurSpan[1]} y={777} up={9} down={8} color={BLUE} />
        <Axis x={xBR} y={966} major={bMajor} minor={bRightMinor} labels={bMajor} majorLen={12} minorLen={7} fontSize={17} labelY={991} />
        <NuLabel x={xBR(0.4)} y={1008} />

        {/* table g2, vivo */}
        <HeadH x={577.3} y={490} text="H Identity" color={INK} />
        <CouplingHead cx={648.3} y={476} color={INK} />
        <line x1={609} x2={609} y1={465} y2={573} stroke={INK} strokeWidth={2} />
        <line x1={547} x2={685} y1={511} y2={511} stroke={INK} strokeWidth={2} />
        {tableG2Rows.map((r, i) => (
          <g key={r.sub} fill={INK} fontSize={12}>
            <text x={578} y={524 + i * 14.5} textAnchor="middle">
              {r.base}<tspan fontSize={r.sub.length > 3 ? 6.5 : 7} dy={3}>{r.sub}</tspan>
            </text>
            <text x={648.3} y={524 + i * 14.5} textAnchor="middle">{r.value}</text>
          </g>
        ))}

        {/* table g2, purified */}
        <HeadH x={579.3} y={675} text="H Identity" color={BLUE} />
        <CouplingHead cx={651.7} y={660} color={BLUE} />
        <line x1={612.7} x2={612.7} y1={651.7} y2={710} stroke={BLUE} strokeWidth={2} />
        <line x1={553.3} x2={685} y1={694.3} y2={694.3} stroke={BLUE} strokeWidth={2} />
        <text x={580} y={706.7} textAnchor="middle" fontSize={11.5} fill={BLUE}>
          {"H"}<tspan fontSize={7} dy={3}>x</tspan><tspan dy={-3}>O</tspan>
        </text>
        <text x={650} y={706.7} textAnchor="middle" fontSize={11.5} fill={BLUE}>10</text>

        <Inset id="clipI3" x0={566} x1={660.7} y0={802.3} y1={911.7} axisY={896.7} x={xI3} y={yI3} ticks={inset3Ticks} major={5}
          label="5" labelY={910.5} pur={inset3Purified} red={inset3Reduced} legendX={658.3} anchor="end" />

        {/* sample labels */}
        <g fontWeight="bold" fontSize={14} textAnchor="middle">
          <text x={350} y={613} fill={INK}>Vivo-pMMO</text>
          <text x={350} y={688} fill={BLUE}>Purified-pMMO</text>
          <text x={350} y={706} fill={BLUE_MID}>
            <tspan fontSize={9} dy={-5}>14</tspan><tspan dy={5}>{"N Purified-pMMO in D"}</tspan>
            <tspan fontSize={9} dy={3}>2</tspan><tspan dy={-3}>{"O (t ~ 0)"}</tspan>
          </text>
          <text x={349} y={724} fill={BLUE_LIGHT}>
            <tspan fontSize={9} dy={-5}>14</tspan><tspan dy={5}>{"N Purified-pMMO in D"}</tspan>
            <tspan fontSize={9} dy={3}>2</tspan><tspan dy={-3}>{"O (t = 19 hrs)"}</tspan>
          </text>
          <text x={353} y={915} fill={"#6a6a6a"}>Reduced/Purified-pMMO</text>
          <text x={355} y={933} fill={GRAY_LIGHT}>
            <tspan fontSize={9} dy={-5}>14</tspan><tspan dy={5}>{"N Red./Pur.-pMMO in D"}</tspan>
            <tspan fontSize={9} dy={3}>2</tspan><tspan dy={-3}>{"O (t < 10 hr)"}</tspan>
          </text>
        </g>
      </svg>
    </div>
  );
}
